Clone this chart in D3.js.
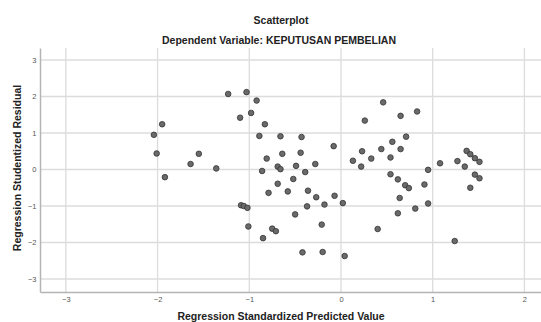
<!DOCTYPE html>
<html>
<head>
<meta charset="utf-8">
<script src="https://cdn.jsdelivr.net/npm/d3@7"></script>
<style>
  body { margin: 0; background: #fff; }
  text { font-family: "Liberation Sans", Arial, sans-serif; }
</style>
</head>
<body>
<div id="chart"></div>
<script>
// regression standardized predicted value
const predicted = [
  -1.23, -1.95, -2.04, -2.01, -1.92, -1.64, -1.55, -1.36, -1.03, -0.92,
  -0.98, -1.10, -0.83, -0.89, -0.66, -0.43, -0.08, -0.64, -0.44, -0.81,
  -0.49, -0.28, -0.69, -0.66, -0.86, -0.39, -0.52, -0.69, -0.79, -0.58,
  -0.36, -0.27, -0.07, -0.18, 0.02, -0.37, -1.09, -1.06, -1.02, 0.46,
  0.26, 0.65, 0.13, 0.23, 0.22, 0.33, 0.44, 0.54, 0.56, 0.54,
  0.62, 0.64, 0.83, 0.71, 0.65, 0.70, 0.74, 0.95, 0.91, 0.95,
  0.81, 1.08, 1.27, 1.35, 1.37, 1.41, 1.46, 1.51, 1.46, 1.51,
  1.41, -0.50, -1.01, -0.75, -0.71, -0.85, -0.21, -0.42, -0.20, 0.04,
  0.40, 0.62, 1.24
];
// regression studentized residual
const residual = [
  2.07, 1.24, 0.95, 0.44, -0.21, 0.15, 0.43, 0.03, 2.12, 1.89,
  1.55, 1.42, 1.24, 0.92, 0.91, 0.89, 0.64, 0.43, 0.46, 0.30,
  0.10, 0.15, 0.08, 0.01, -0.04, -0.07, -0.26, -0.39, -0.64, -0.60,
  -0.58, -0.76, -0.72, -0.96, -0.92, -1.01, -0.98, -1.00, -1.05, 1.84,
  1.34, 1.47, 0.24, 0.50, 0.08, 0.30, 0.56, 0.33, 0.76, -0.13,
  -0.27, -0.78, 1.59, 0.90, 0.56, -0.43, -0.51, -0.01, -0.41, -0.93,
  -1.07, 0.17, 0.23, 0.08, 0.51, 0.42, 0.31, 0.21, -0.14, -0.24,
  -0.50, -1.23, -1.56, -1.62, -1.69, -1.88, -1.51, -2.27, -2.26, -2.37,
  -1.63, -1.20, -1.96
];
const xTicks = [-3, -2, -1, 0, 1, 2];
const yTicks = [-3, -2, -1, 0, 1, 2, 3];

const width = 541;
const height = 322;
const margin = { top: 48, right: 0, bottom: 30, left: 40 };

const svg = d3.select('#chart')
  .append('svg')
  .attr('width', width)
  .attr('height', height);

const x = d3.scaleLinear()
  .domain([-3.282, 2.181])
  .range([margin.left, width - margin.right]);

const y = d3.scaleLinear()
  .domain([-3.356, 3.329])
  .range([height - margin.bottom, margin.top]);

// grid
svg.append('g')
  .selectAll('line')
  .data(xTicks)
  .join('line')
  .attr('x1', (d) => x(d))
  .attr('x2', (d) => x(d))
  .attr('y1', margin.top)
  .attr('y2', height - margin.bottom)
  .attr('stroke', '#dcdcdc')
  .attr('stroke-width', 1.3);

svg.append('g')
  .selectAll('line')
  .data(yTicks)
  .join('line')
  .attr('x1', margin.left)
  .attr('x2', width)
  .attr('y1', (d) => y(d))
  .attr('y2', (d) => y(d))
  .attr('stroke', '#dcdcdc')
  .attr('stroke-width', 1.3);

const xAxis = (g) => g
  .call(d3.axisBottom(x)
    .tickValues(xTicks)
    .tickFormat(d3.format('d'))
    .tickSize(0)
    .tickPadding(4.5));

const yAxis = (g) => g
  .call(d3.axisLeft(y)
    .tickValues(yTicks)
    .tickFormat(d3.format('d'))
    .tickSize(0)
    .tickPadding(3.5));

svg.append('g')
  .attr('transform', `translate(0, ${height - margin.bottom})`)
  .call(xAxis);

svg.append('g')
  .attr('transform', `translate(${margin.left}, 0)`)
  .call(yAxis);

svg.selectAll('.domain')
  .attr('stroke', '#b4b4b4')
  .attr('stroke-width', 1.5);

svg.selectAll('.tick text')
  .attr('fill', '#555')
  .style('font-size', '7.5px');

// points
svg.append('g')
  .selectAll('circle')
  .data(predicted.map((d, i) => [d, residual[i]]))
  .join('circle')
  .attr('cx', (d) => x(d[0]))
  .attr('cy', (d) => y(d[1]))
  .attr('r', 2.8)
  .attr('fill', '#6a6a6a')
  .attr('stroke', '#333')
  .attr('stroke-width', 0.8);

// titles
svg.append('text')
  .attr('x', 281)
  .attr('y', 24)
  .attr('text-anchor', 'middle')
  .attr('font-weight', 'bold')
  .attr('font-size', 10.5)
  .attr('fill', '#222')
  .text('Scatterplot');

svg.append('text')
  .attr('x', 279)
  .attr('y', 44)
  .attr('text-anchor', 'middle')
  .attr('font-weight', 'bold')
  .attr('font-size', 10.5)
  .attr('fill', '#222')
  .text('Dependent Variable: KEPUTUSAN PEMBELIAN');

svg.append('text')
  .attr('x', 281)
  .attr('y', 320)
  .attr('text-anchor', 'middle')
  .attr('font-weight', 'bold')
  .attr('font-size', 10.5)
  .attr('fill', '#222')
  .text('Regression Standardized Predicted Value');

svg.append('text')
  .attr('transform', 'translate(21, 168) rotate(-90)')
  .attr('text-anchor', 'middle')
  .attr('font-weight', 'bold')
  .attr('font-size', 10.5)
  .attr('fill', '#222')
  .text('Regression Studentized Residual');
</script>
</body>
</html>
